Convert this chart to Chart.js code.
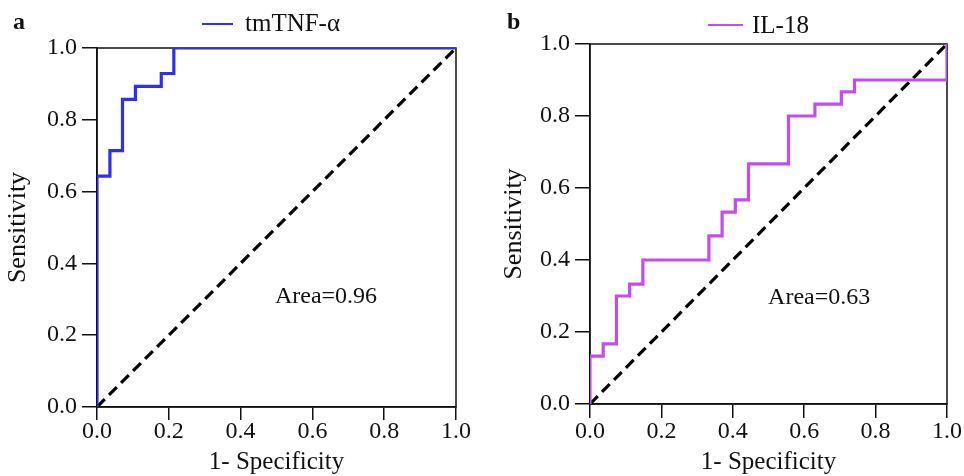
<!DOCTYPE html>
<html>
<head>
<meta charset="utf-8">
<script src="https://cdn.jsdelivr.net/npm/chart.js@4.4.0/dist/chart.umd.min.js"></script>
<style>
  html, body { margin: 0; padding: 0; background: #fff; }
  body { width: 964px; height: 476px; position: relative; overflow: hidden; }
  .panel { position: absolute; top: 0; width: 471px; height: 476px; }
</style>
</head>
<body>
<div class="panel" style="left:0"><canvas id="chartA"></canvas></div>
<div class="panel" style="left:493px"><canvas id="chartB"></canvas></div>
<script>
// ROC steps
const tnfFpr = [0, 0, 0.036, 0.036, 0.071, 0.071, 0.107, 0.107, 0.179, 0.179, 0.214, 0.214, 1];
const tnfTpr = [0, 0.643, 0.643, 0.714, 0.714, 0.857, 0.857, 0.893, 0.893, 0.929, 0.929, 1, 1];

const il18Fpr = [0, 0, 0.037, 0.037, 0.074, 0.074, 0.111, 0.111, 0.148, 0.148, 0.333, 0.333, 0.370, 0.370,
  0.407, 0.407, 0.444, 0.444, 0.556, 0.556, 0.630, 0.630, 0.704, 0.704, 0.741, 0.741, 1, 1];
const il18Tpr = [0, 0.133, 0.133, 0.167, 0.167, 0.3, 0.3, 0.333, 0.333, 0.4, 0.4, 0.467, 0.467, 0.533,
  0.533, 0.567, 0.567, 0.667, 0.667, 0.8, 0.8, 0.833, 0.833, 0.867, 0.867, 0.9, 0.9, 1];

// reference diagonal
const chanceX = [0, 1];
const chanceY = [0, 1];

const tickLabels = ['0.0', '0.2', '0.4', '0.6', '0.8', '1.0'];

const ink = '#111';
Chart.defaults.font.family = '"Liberation Serif", "Times New Roman", serif';
Chart.defaults.font.size = 24;
Chart.defaults.color = ink;

function toPoints(xs, ys) {
  return xs.map((x, i) => ({ x: x, y: ys[i] }));
}

// box, panel letter, legend sample and area label
const panelDecor = {
  id: 'panelDecor',
  beforeDatasetsDraw(chart) {
    const { ctx, chartArea } = chart;
    ctx.save();
    ctx.strokeStyle = ink;
    ctx.lineWidth = 1.5;
    ctx.strokeRect(chartArea.left, chartArea.top, chartArea.right - chartArea.left, chartArea.bottom - chartArea.top);
    ctx.restore();
  },
  afterDraw(chart, args, opts) {
    const { ctx, scales } = chart;
    const ds = chart.data.datasets[0];
    ctx.save();
    ctx.fillStyle = ink;
    ctx.textBaseline = 'alphabetic';
    ctx.font = 'bold 24px "Liberation Serif"';
    ctx.fillText(opts.letter, opts.letterX, opts.letterY);

    ctx.font = '25px "Liberation Serif"';
    ctx.strokeStyle = ds.borderColor;
    ctx.lineWidth = 2;
    ctx.beginPath();
    ctx.moveTo(opts.lineX0, opts.lineY);
    ctx.lineTo(opts.lineX1, opts.lineY);
    ctx.stroke();
    ctx.fillText(ds.label, opts.textX, opts.textY);

    ctx.font = '24px "Liberation Serif"';
    ctx.textAlign = 'center';
    ctx.textBaseline = 'middle';
    ctx.fillText(opts.area, scales.x.getPixelForValue(opts.areaAt[0]), scales.y.getPixelForValue(opts.areaAt[1]));
    ctx.restore();
  }
};

function makeOptions(cfg) {
  return {
    responsive: true,
    maintainAspectRatio: false,
    animation: false,
    layout: { padding: { left: 0, right: cfg.padRight, top: cfg.padTop, bottom: 0 } },
    plugins: {
      legend: { display: false },
      tooltip: { enabled: false },
      panelDecor: cfg.decor
    },
    scales: {
      x: {
        type: 'linear', min: 0, max: 1,
        afterFit: s => { s.height = cfg.xHeight; },
        ticks: { stepSize: 0.2, padding: cfg.xTickPad, color: ink, maxRotation: 0, autoSkip: false,
          font: { size: 24, lineHeight: 1 }, callback: (v, i) => tickLabels[i] },
        grid: { drawOnChartArea: false, tickLength: cfg.xTickLen, color: ink, lineWidth: 1.5 },
        border: { color: ink, width: 1.5 },
        title: { display: true, text: '1- Specificity', color: ink, font: { size: 25, lineHeight: 1 },
          padding: { top: 0, bottom: 1 } }
      },
      y: {
        type: 'linear', min: 0, max: 1,
        afterFit: s => { s.width = 97; },
        ticks: { stepSize: 0.2, padding: 5, color: ink, autoSkip: false,
          font: { size: 24, lineHeight: 1 }, callback: (v, i) => tickLabels[i] },
        grid: { drawOnChartArea: false, tickLength: 15, color: ink, lineWidth: 1.5 },
        border: { color: ink, width: 1.5 },
        title: { display: true, text: 'Sensitivity', color: ink, font: { size: 26, lineHeight: 1 },
          padding: { top: cfg.yTitlePad, bottom: 0 } }
      }
    }
  };
}

function makeDatasets(label, color, xs, ys) {
  return [
    { label: label, data: toPoints(xs, ys), showLine: true, borderColor: color, borderWidth: 3.2,
      pointRadius: 0, fill: false, tension: 0 },
    { label: 'chance', data: toPoints(chanceX, chanceY), showLine: true, borderColor: '#000', borderWidth: 3.2,
      borderDash: [11, 6], pointRadius: 0, fill: false }
  ];
}

new Chart(document.getElementById('chartA'), {
  type: 'scatter',
  data: { datasets: makeDatasets('tmTNF-\u03b1', '#2f2ff2', tnfFpr, tnfTpr) },
  options: makeOptions({
    padRight: 15, padTop: 48, xHeight: 69, xTickPad: 0, xTickLen: 13, yTitlePad: 5,
    decor: { letter: 'a', letterX: 13, letterY: 29, lineX0: 202, lineX1: 233, lineY: 24,
      textX: 245, textY: 31, area: 'Area=0.96', areaAt: [0.638, 0.306] }
  }),
  plugins: [panelDecor]
});

new Chart(document.getElementById('chartB'), {
  type: 'scatter',
  data: { datasets: makeDatasets('IL-18', '#c24cf2', il18Fpr, il18Tpr) },
  options: makeOptions({
    padRight: 16, padTop: 44, xHeight: 72, xTickPad: 2, xTickLen: 14, yTitlePad: 8,
    decor: { letter: 'b', letterX: 14, letterY: 29, lineX0: 215, lineX1: 250, lineY: 25,
      textX: 259, textY: 33, area: 'Area=0.63', areaAt: [0.642, 0.294] }
  }),
  plugins: [panelDecor]
});
</script>
</body>
</html>
